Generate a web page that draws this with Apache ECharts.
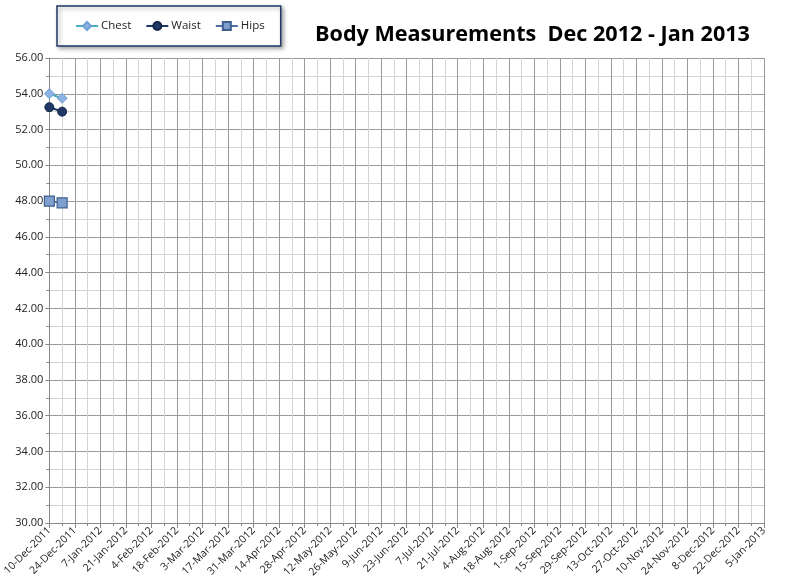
<!DOCTYPE html>
<html><head><meta charset="utf-8">
<script src="https://cdn.jsdelivr.net/npm/echarts@6/dist/echarts.min.js"></script>
<style>html,body{margin:0;padding:0;background:#fff}#c{width:788px;height:586px}</style>
</head><body><div id="c"></div>
<script>
const startDate = '2011-12-10';
const dates = ['2011-12-10', '2011-12-17'];
const chest = [54.0, 53.75];
const waist = [53.25, 53.0];
const hips = [48.0, 47.9];
const tickLabels = ['10-Dec-2011','24-Dec-2011','7-Jan-2012','21-Jan-2012','4-Feb-2012','18-Feb-2012','3-Mar-2012','17-Mar-2012','31-Mar-2012','14-Apr-2012','28-Apr-2012','12-May-2012','26-May-2012','9-Jun-2012','23-Jun-2012','7-Jul-2012','21-Jul-2012','4-Aug-2012','18-Aug-2012','1-Sep-2012','15-Sep-2012','29-Sep-2012','13-Oct-2012','27-Oct-2012','10-Nov-2012','24-Nov-2012','8-Dec-2012','22-Dec-2012','5-Jan-2013'];

const dayMs = 86400000;
const t0 = Date.parse(startDate + 'T00:00:00Z');
const toDay = d => Math.round((Date.parse(d + 'T00:00:00Z') - t0) / dayMs);
const pairs = arr => dates.map((d, i) => [toDay(d), arr[i]]);

const chart = echarts.init(document.getElementById('c'));
const font = 'Open Sans';
chart.setOption({
  animation: false,
  backgroundColor: '#fff',
  title: {
    text: 'Body Measurements  Dec 2012 - Jan 2013',
    left: 310, top: 19,
    textStyle: { fontFamily: 'Open Sans', fontWeight: 'bold', fontSize: 21.6, color: '#000' }
  },
  legend: {
    left: 57, top: 6,
    padding: [14, 16, 14, 18],
    itemGap: 14,
    borderColor: '#1f3864', borderWidth: 1.5,
    backgroundColor: '#fff',
    shadowColor: 'rgba(0,0,0,0.35)', shadowBlur: 4, shadowOffsetX: 2, shadowOffsetY: 2,
    itemWidth: 22, itemHeight: 10,
    textStyle: { fontFamily: font, fontSize: 11.5, color: '#222', padding: [0, 0, 0, -2] },
    data: ['Chest', 'Waist', 'Hips']
  },
  grid: { left: 47, right: 24, top: 58, bottom: 63, containLabel: false },
  xAxis: {
    type: 'value', min: 0, max: (tickLabels.length - 1) * 14, interval: 14,
    axisLine: { show: true, lineStyle: { color: '#888', width: 1 } },
    axisTick: { show: true, length: 5, lineStyle: { color: '#888' } },
    minorTick: { show: true, splitNumber: 2, length: 3, lineStyle: { color: '#888' } },
    splitLine: { show: true, lineStyle: { color: '#9a9a9a', width: 1 } },
    minorSplitLine: { show: true, lineStyle: { color: '#d4d4d4', width: 1 } },
    axisLabel: {
      rotate: 45, fontFamily: font, fontSize: 10.5, color: '#222', margin: 6,
      formatter: v => tickLabels[Math.round(v / 14)] || ''
    }
  },
  yAxis: {
    type: 'value', min: 30, max: 56, interval: 2,
    axisLine: { show: true, lineStyle: { color: '#888' } },
    axisTick: { show: true, length: 4, lineStyle: { color: '#888' } },
    minorTick: { show: true, splitNumber: 2, length: 3, lineStyle: { color: '#888' } },
    splitLine: { show: true, lineStyle: { color: '#9a9a9a', width: 1 } },
    minorSplitLine: { show: true, lineStyle: { color: '#d4d4d4', width: 1 } },
    axisLabel: { fontFamily: font, fontSize: 11, color: '#222', margin: 6, formatter: v => v.toFixed(2) }
  },
  series: [
    { name: 'Chest', type: 'line', data: pairs(chest), symbol: 'diamond', symbolSize: 10,
      lineStyle: { color: '#4bacc6', width: 2 },
      itemStyle: { color: '#8db3e2', borderColor: '#6fa0d8', borderWidth: 1 } },
    { name: 'Waist', type: 'line', data: pairs(waist), symbol: 'circle', symbolSize: 9,
      lineStyle: { color: '#1f3864', width: 2 },
      itemStyle: { color: '#1f3864', borderColor: '#16284a', borderWidth: 1 } },
    { name: 'Hips', type: 'line', data: pairs(hips), symbol: 'rect', symbolSize: 10,
      lineStyle: { color: '#4f6fa0', width: 2 },
      itemStyle: { color: '#7f9fcf', borderColor: '#3f5f8f', borderWidth: 1.2 } }
  ]
});
</script></body></html>
